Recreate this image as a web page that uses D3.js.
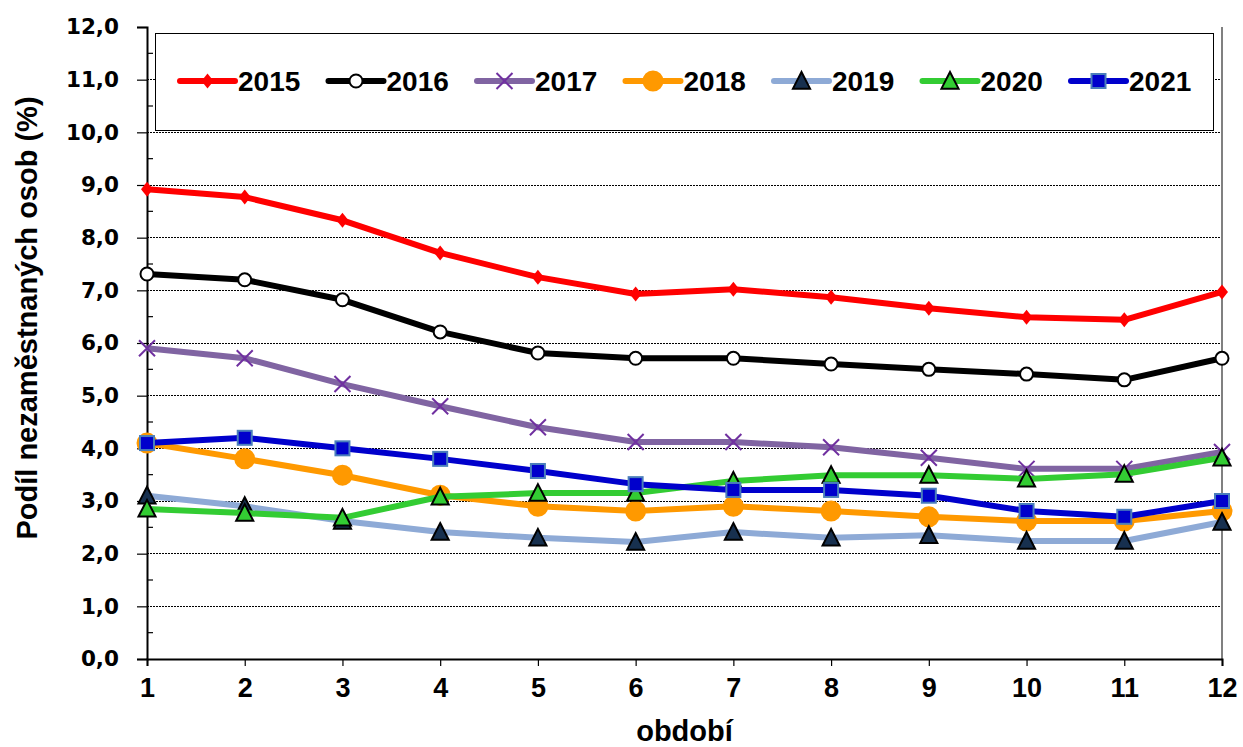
<!DOCTYPE html>
<html>
<head>
<meta charset="utf-8">
<script src="https://cdn.jsdelivr.net/npm/d3@7"></script>
<style>
  body { margin: 0; background: #fff; }
  svg { display: block; }
</style>
</head>
<body>
<div id="chart"></div>
<script>
// období 1..12
const obdobi = [1, 2, 3, 4, 5, 6, 7, 8, 9, 10, 11, 12];
const roky = ['2015', '2016', '2017', '2018', '2019', '2020', '2021'];

// podíl nezaměstnaných osob (%)
const r2015 = [8.92, 8.77, 8.33, 7.71, 7.25, 6.93, 7.02, 6.87, 6.66, 6.49, 6.44, 6.97];
const r2016 = [7.31, 7.20, 6.82, 6.21, 5.81, 5.71, 5.71, 5.60, 5.50, 5.41, 5.30, 5.71];
const r2017 = [5.90, 5.71, 5.22, 4.80, 4.40, 4.12, 4.12, 4.02, 3.82, 3.61, 3.61, 3.93];
const r2018 = [4.10, 3.80, 3.49, 3.11, 2.90, 2.81, 2.90, 2.81, 2.70, 2.62, 2.62, 2.81];
const r2019 = [3.10, 2.90, 2.62, 2.41, 2.30, 2.22, 2.41, 2.30, 2.35, 2.24, 2.24, 2.60];
const r2020 = [2.85, 2.77, 2.68, 3.08, 3.15, 3.15, 3.38, 3.49, 3.49, 3.42, 3.51, 3.82];
const r2021 = [4.10, 4.20, 4.00, 3.80, 3.57, 3.32, 3.21, 3.21, 3.10, 2.81, 2.70, 3.00];

const yTicks = [0, 1, 2, 3, 4, 5, 6, 7, 8, 9, 10, 11, 12];

const hodnoty = [r2015, r2016, r2017, r2018, r2019, r2020, r2021];

// vzhled řad
const styly = [
  { line: '#ff0000', marker: 'diamond', fill: '#ff0000', stroke: 'none', size: 7.5 },
  { line: '#000000', marker: 'circle', fill: '#ffffff', stroke: '#000000', size: 6.5 },
  { line: '#8064a2', marker: 'x', fill: 'none', stroke: '#7030a0', size: 8 },
  { line: '#ff9900', marker: 'circle', fill: '#ff9900', stroke: '#ff9900', size: 9.5 },
  { line: '#8eaad6', marker: 'triangle', fill: '#17304f', stroke: '#000000', size: 9 },
  { line: '#33cc33', marker: 'triangle', fill: '#33cc33', stroke: '#000000', size: 9 },
  { line: '#0000cc', marker: 'square', fill: '#0000cc', stroke: '#4a7ebb', size: 7 }
];

const W = 1243, H = 747;
const mLeft = 147, mRight = 1222, mTop = 27, mBottom = 659;
const bold = '"Liberation Sans", Arial, sans-serif';

const svg = d3.select('#chart').append('svg')
  .attr('width', W).attr('height', H);

const x = d3.scaleLinear().domain([1, 12]).range([mLeft, mRight]);
const y = d3.scaleLinear().domain([0, 12]).range([mBottom, mTop]);

// mřížka
svg.append('g')
  .selectAll('line')
  .data(yTicks.filter(d => d > 0 && d < 12))
  .join('line')
  .attr('x1', mLeft).attr('x2', mRight)
  .attr('y1', d => y(d)).attr('y2', d => y(d))
  .attr('stroke', '#000').attr('stroke-width', 1)
  .attr('stroke-dasharray', '2,1')
  .attr('shape-rendering', 'crispEdges');

// pravý okraj
svg.append('line')
  .attr('x1', mRight).attr('x2', mRight)
  .attr('y1', mTop).attr('y2', mBottom)
  .attr('stroke', '#808080').attr('stroke-width', 2);

// osa y
const yAxis = d3.axisLeft(y)
  .tickValues(yTicks)
  .tickSize(10)
  .tickPadding(18)
  .tickFormat(d => d3.format('.1f')(d).replace('.', ','));

const gy = svg.append('g')
  .attr('transform', `translate(${mLeft},0)`)
  .call(yAxis);
gy.select('.domain').attr('stroke', '#000').attr('stroke-width', 2);
gy.selectAll('.tick line').attr('stroke', '#000').attr('stroke-width', 1.2);
gy.selectAll('.tick text')
  .attr('font-family', '"DejaVu Sans", Verdana, sans-serif')
  .attr('font-weight', 'bold')
  .attr('font-size', '21.5px')
  .attr('fill', '#000');

// vedlejší značky (uvnitř)
svg.append('g')
  .selectAll('line')
  .data(d3.range(0.5, 12, 1))
  .join('line')
  .attr('x1', mLeft).attr('x2', mLeft + 6)
  .attr('y1', d => y(d)).attr('y2', d => y(d))
  .attr('stroke', '#000').attr('stroke-width', 1.2);

// osa x
const xAxis = d3.axisBottom(x)
  .tickValues(obdobi)
  .tickSize(7)
  .tickPadding(12)
  .tickFormat(d3.format('d'));

const gx = svg.append('g')
  .attr('transform', `translate(0,${mBottom})`)
  .call(xAxis);
gx.select('.domain').attr('stroke', '#000').attr('stroke-width', 2);
gx.selectAll('.tick line').attr('stroke', '#000').attr('stroke-width', 1.2);
gx.selectAll('.tick text')
  .attr('font-family', bold)
  .attr('font-weight', 'bold')
  .attr('font-size', '27px')
  .attr('fill', '#000');

// popisky os
svg.append('text')
  .attr('x', x(6.5)).attr('y', 741)
  .attr('text-anchor', 'middle')
  .attr('font-family', bold)
  .attr('font-weight', 'bold')
  .attr('font-size', '29px')
  .text('období');

svg.append('text')
  .attr('transform', 'translate(37,318) rotate(-90)')
  .attr('text-anchor', 'middle')
  .attr('font-family', bold)
  .attr('font-weight', 'bold')
  .attr('font-size', '29px')
  .text('Podíl nezaměstnaných osob (%)');

// značky
function marker(sel, s) {
  const r = s.size;
  if (s.marker === 'circle') {
    sel.append('circle').attr('r', r)
      .attr('fill', s.fill).attr('stroke', s.stroke).attr('stroke-width', 2);
  } else if (s.marker === 'diamond') {
    sel.append('path')
      .attr('d', `M0,${-r}L${r * 0.8},0L0,${r}L${-r * 0.8},0Z`)
      .attr('fill', s.fill);
  } else if (s.marker === 'x') {
    sel.append('path')
      .attr('d', `M${-r},${-r}L${r},${r}M${-r},${r}L${r},${-r}`)
      .attr('stroke', s.stroke).attr('stroke-width', 2).attr('fill', 'none');
  } else if (s.marker === 'triangle') {
    sel.append('path')
      .attr('d', `M0,${-r}L${r * 0.95},${r * 0.85}L${-r * 0.95},${r * 0.85}Z`)
      .attr('fill', s.fill).attr('stroke', s.stroke).attr('stroke-width', 2)
      .attr('stroke-linejoin', 'miter');
  } else if (s.marker === 'square') {
    sel.append('rect').attr('x', -r).attr('y', -r)
      .attr('width', 2 * r).attr('height', 2 * r)
      .attr('fill', s.fill).attr('stroke', s.stroke).attr('stroke-width', 2);
  }
}

const line = d3.line().x((d, i) => x(obdobi[i])).y(d => y(d));

hodnoty.forEach((vals, k) => {
  const s = styly[k];
  const g = svg.append('g');
  g.append('path')
    .datum(vals)
    .attr('d', line)
    .attr('fill', 'none')
    .attr('stroke', s.line)
    .attr('stroke-width', 6)
    .attr('stroke-linejoin', 'round');
  g.selectAll('g.m')
    .data(vals)
    .join('g')
    .attr('class', 'm')
    .attr('transform', (d, i) => `translate(${x(obdobi[i])},${y(d)})`)
    .each(function () { marker(d3.select(this), s); });
});

// legenda
const leg = svg.append('g');
leg.append('rect')
  .attr('x', 155.5).attr('y', 33.5)
  .attr('width', 1058).attr('height', 97)
  .attr('fill', '#fff').attr('stroke', '#000').attr('stroke-width', 1);

const legItems = leg.selectAll('g.li')
  .data(roky)
  .join('g')
  .attr('class', 'li')
  .attr('transform', (d, i) => `translate(${180 + i * 148.5},81)`);

legItems.append('line')
  .attr('x1', 0).attr('x2', 55)
  .attr('stroke', (d, i) => styly[i].line)
  .attr('stroke-width', 6)
  .attr('stroke-linecap', 'round');

legItems.append('g')
  .attr('transform', 'translate(27.5,0)')
  .each(function (d, i) { marker(d3.select(this), styly[i]); });

legItems.append('text')
  .attr('x', 58).attr('y', 10)
  .attr('font-family', bold)
  .attr('font-weight', 'bold')
  .attr('font-size', '28px')
  .text(d => d);
</script>
</body>
</html>
